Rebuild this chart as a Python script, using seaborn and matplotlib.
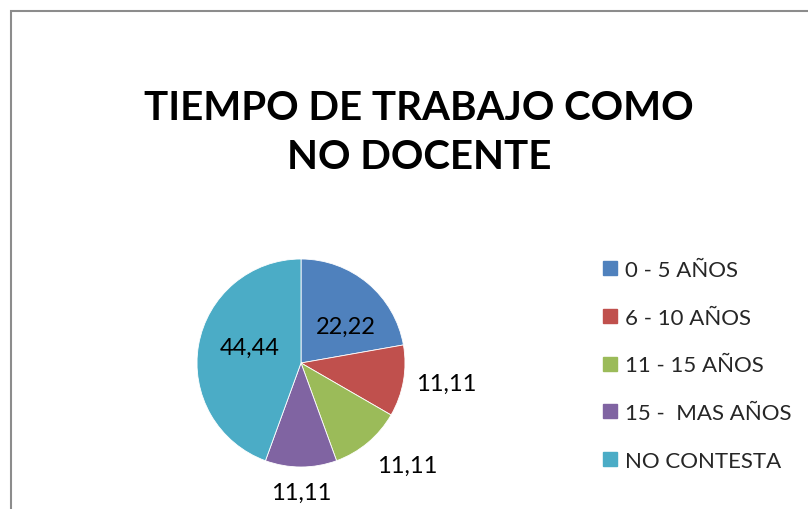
import matplotlib
matplotlib.use("Agg")
import matplotlib.pyplot as plt
import seaborn as sns
from matplotlib.lines import Line2D
from matplotlib.patches import Rectangle
import numpy as np

# data
categories = ["0 - 5 AÑOS", "6 - 10 AÑOS", "11 - 15 AÑOS", "15 -  MAS AÑOS", "NO CONTESTA"]
values = [22.22, 11.11, 11.11, 11.11, 44.44]
value_labels = ["22,22", "11,11", "11,11", "11,11", "44,44"]
title = "TIEMPO DE TRABAJO COMO\nNO DOCENTE"

colors = ["#4F81BD", "#C0504D", "#9BBB59", "#8064A2", "#4BACC6"]
# label placement: distance from centre (radii) and angle nudge (deg)
label_dist = [0.56, 1.41, 1.42, 1.24, 0.52]
label_turn = [-11, 2, 6, 0, -7]

sns.set_theme(style="white")
plt.rcParams["font.family"] = ["Lato", "DejaVu Sans"]

fig = plt.figure(figsize=(8.08, 5.10), dpi=100)
fig.patch.set_facecolor("white")

# chart area border (right/bottom fall outside the picture)
fig.patches.append(Rectangle((11 / 808, -0.1), 1.2, (510 - 11.5) / 510 + 0.1,
                             transform=fig.transFigure, fill=False,
                             edgecolor="#8C8C8C", linewidth=1.5))

fig.text(419 / 808, 1 - 133 / 510, title, ha="center", va="center",
         fontsize=29, fontweight="bold", color="black", linespacing=1.42)

ax = fig.add_axes([(301 - 104) / 808, (510 - 468) / 510, 208 / 808, 208 / 510])
wedges, _ = ax.pie(values, colors=colors, startangle=90, counterclock=False,
                   radius=1, wedgeprops=dict(edgecolor="white", linewidth=0.6))
ax.set_xlim(-1, 1)
ax.set_ylim(-1, 1)
ax.set_aspect("equal")
ax.axis("off")

for w, txt, d, t in zip(wedges, value_labels, label_dist, label_turn):
    ang = np.deg2rad((w.theta1 + w.theta2) / 2 + t)
    ax.text(d * np.cos(ang), d * np.sin(ang), txt, ha="center", va="center",
            fontsize=17, color="black")

handles = [Line2D([0], [0], marker="s", linestyle="none", markersize=10,
                  markerfacecolor=c, markeredgecolor=c) for c in colors]
fig.legend(handles, categories, loc="upper left",
           bbox_to_anchor=(592 / 808, 1 - 252 / 510), frameon=False,
           fontsize=16, handlelength=0.8, handletextpad=0.3,
           labelspacing=1.25, borderaxespad=0)

fig.savefig("out.png", dpi=100, facecolor="white")
